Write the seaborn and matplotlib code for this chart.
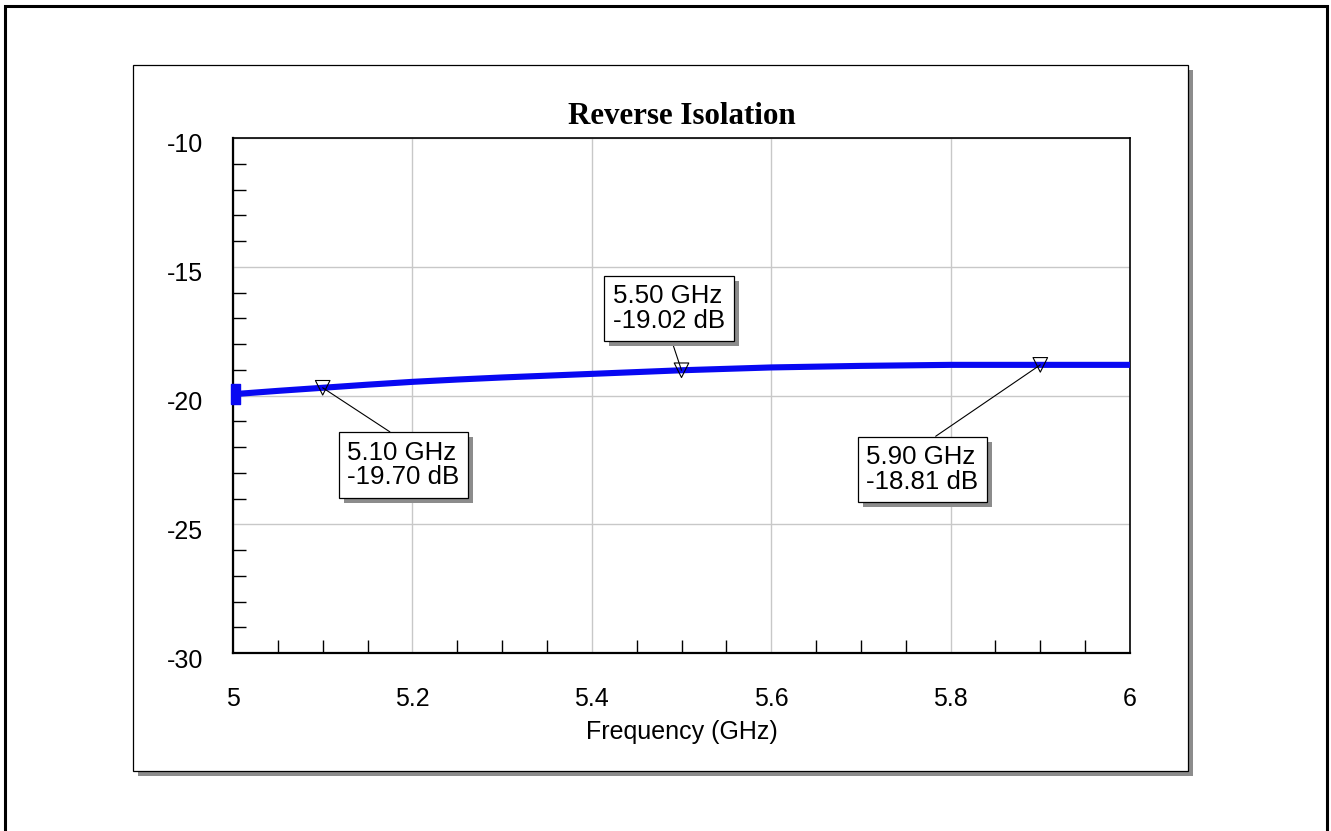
import matplotlib
matplotlib.use("Agg")
import matplotlib.pyplot as plt
import matplotlib.patches as mpatches
import matplotlib.patheffects as pe
from matplotlib.transforms import ScaledTranslation
from matplotlib.ticker import FixedLocator, MultipleLocator
import seaborn as sns

# S12 sweep (dB) over frequency (GHz)
freq_ghz = [5.00, 5.05, 5.10, 5.15, 5.20, 5.25, 5.30, 5.40, 5.50, 5.60, 5.70, 5.80, 5.90, 6.00]
isolation_db = [-19.95, -19.82, -19.70, -19.58, -19.47, -19.38, -19.30, -19.16, -19.02,
                -18.91, -18.85, -18.81, -18.81, -18.81]

# marker readouts
marker_freq = [5.10, 5.50, 5.90]
marker_db = [-19.70, -19.02, -18.81]

x_ticks = [5.0, 5.2, 5.4, 5.6, 5.8, 6.0]
x_tick_labels = ["5", "5.2", "5.4", "5.6", "5.8", "6"]
y_ticks = [-30, -25, -20, -15, -10]
y_tick_labels = ["-30", "-25", "-20", "-15", "-10"]

sns.set_theme(style="white")
plt.rcParams["font.family"] = ["Liberation Sans", "DejaVu Sans"]

W, H = 1331, 831
fig = plt.figure(figsize=(W / 100, H / 100), dpi=100)
fig.patch.set_facecolor("white")


def fig_rect(x0, y0, x1, y1, **kw):
    """Rectangle given in pixel coordinates (origin top-left)."""
    return mpatches.Rectangle((x0 / W, 1 - y1 / H), (x1 - x0) / W, (y1 - y0) / H,
                              transform=fig.transFigure, zorder=-5, **kw)


# outer page frame
fig.add_artist(fig_rect(4.5, 6, 1327, 900, fill=False, ec="black", lw=2.2))
# graph panel with drop shadow
fig.add_artist(fig_rect(138, 70, 1193, 776, fc="#8c8c8c", ec="none"))
fig.add_artist(fig_rect(133, 65, 1188, 771, fc="white", ec="black", lw=0.9))

ax = fig.add_axes([233 / W, 1 - 653 / H, 897 / W, 515 / H])
ax.set_zorder(2)
ax.set_facecolor("white")

trace_color = "#0808f2"
sns.lineplot(x=freq_ghz, y=isolation_db, color=trace_color, lw=4.4, ax=ax, zorder=3)
# start-of-trace handle
ax.plot(freq_ghz[:1], isolation_db[:1], linestyle="none", color=trace_color,
        marker=[(-0.15, -1), (0.72, -1), (0.72, 1), (-0.15, 1), (-0.15, -1)],
        markersize=15, zorder=4, clip_on=False)
sns.scatterplot(x=marker_freq, y=marker_db, marker="v", s=110, facecolor="none",
                edgecolor="black", linewidth=0.8, ax=ax, zorder=5)

ax.set_xlim(5.0, 6.0)
ax.set_ylim(-30, -10)
ax.xaxis.set_major_locator(FixedLocator(x_ticks))
ax.yaxis.set_major_locator(FixedLocator(y_ticks))
ax.set_xticklabels(x_tick_labels)
ax.set_yticklabels(y_tick_labels)
ax.xaxis.set_minor_locator(MultipleLocator(0.05))
ax.yaxis.set_minor_locator(MultipleLocator(1))

ax.grid(True, which="major", color="#c8c8c8", lw=1.0)
ax.set_axisbelow(True)
ax.tick_params(which="major", length=0, labelsize=18, labelcolor="black")
ax.tick_params(axis="x", which="major", pad=24.6)
ax.tick_params(axis="y", which="major", pad=21.5)
ax.tick_params(which="minor", direction="in", length=9.4, width=1.0, color="black",
               left=True, bottom=True, right=False, top=False)

for lab in ax.get_yticklabels():
    lab.set_transform(lab.get_transform() + ScaledTranslation(0, -5 / 100, fig.dpi_scale_trans))

for side, lw in (("left", 1.6), ("bottom", 1.6), ("top", 1.2), ("right", 1.2)):
    ax.spines[side].set_visible(True)
    ax.spines[side].set_color("black")
    ax.spines[side].set_linewidth(lw)

ax.set_title("Reverse Isolation", y=1 + 21 / 515, pad=0, va="center",
             fontfamily=["Liberation Serif", "DejaVu Serif"], fontweight="bold",
             fontsize=22.3, color="black")
ax.set_xlabel("Frequency (GHz)", fontsize=18, color="black", va="center")
ax.xaxis.set_label_coords(0.5, -(732 - 653) / 515)
ax.set_ylabel("")

# readout boxes: offset of box centre from marker (points) and leader anchor on box
box_offsets = [(58.2, -55.6), (-9.0, 44.5), (-84.8, -75.3)]
leader_anchor = [(0.5, 1.0), (0.5, 0.0), (0.5, 1.0)]

for f, d, off, rel in zip(marker_freq, marker_db, box_offsets, leader_anchor):
    ann = ax.annotate(
        f"{f:.2f} GHz\n{d:.2f} dB", xy=(f, d), xytext=off, textcoords="offset points",
        ha="center", va="center", multialignment="left", fontsize=18.6, linespacing=1.02,
        color="black", zorder=6,
        bbox=dict(boxstyle="square,pad=0.33", fc="white", ec="black", lw=0.9),
        arrowprops=dict(arrowstyle="-", color="black", lw=0.8, shrinkA=0, shrinkB=0,
                        relpos=rel),
    )
    ann.get_bbox_patch().set_path_effects([
        pe.SimplePatchShadow(offset=(3.6, -3.6), shadow_rgbFace="#8c8c8c", alpha=1.0),
        pe.Normal(),
    ])

fig.savefig("out.png", dpi=100)
